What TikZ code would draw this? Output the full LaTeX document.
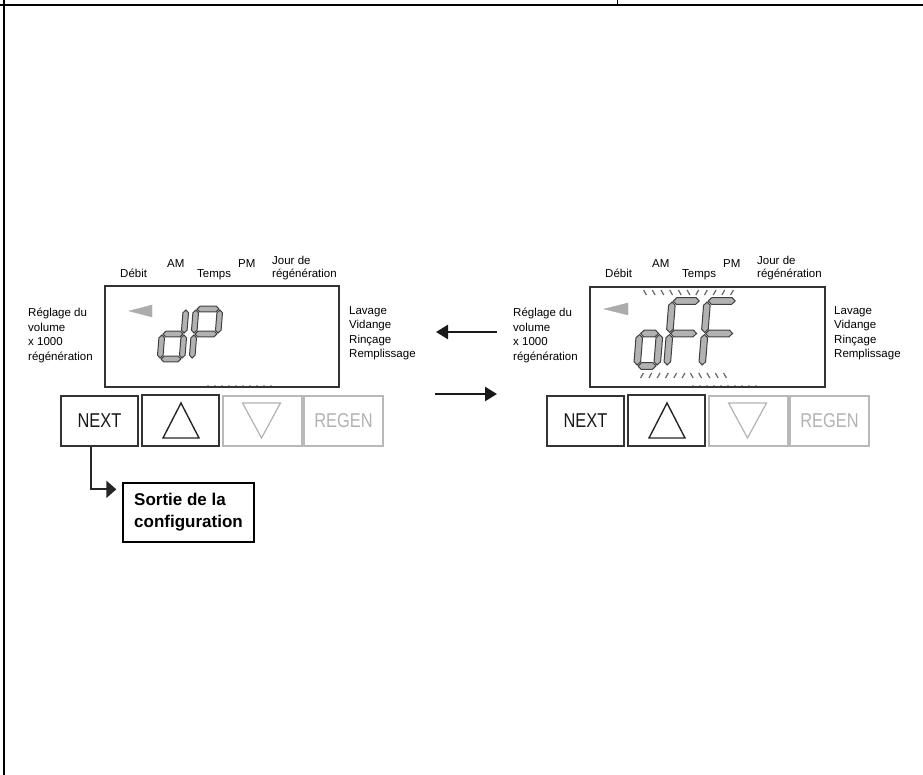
\documentclass[tikz,border=0pt]{standalone}
\usepackage{fontspec}
\setmainfont{Liberation Sans}
\newfontfamily\narrowfont{Liberation Sans}[FakeStretch=0.82]
\usetikzlibrary{arrows.meta}

\newcommand\segH[3]{%
  \filldraw[seg] (#1,#3) -- ({#1+\segT},{#3-\segT}) -- ({#2-\segT},{#3-\segT}) -- (#2,#3)
    -- ({#2-\segT},{#3+\segT}) -- ({#1+\segT},{#3+\segT}) -- cycle;}
\newcommand\segV[3]{%
  \filldraw[seg] (#1,#2) -- ({#1+\segT},{#2+\segT}) -- ({#1+\segT},{#3-\segT}) -- (#1,#3)
    -- ({#1-\segT},{#3-\segT}) -- ({#1-\segT},{#2+\segT}) -- cycle;}
\newcommand\segA{\segH{\dg}{\dW-\dg}{-\dH}}
\newcommand\segB{\segV{\dW}{-\dH+\dg}{-\dH/2-\dg}}
\newcommand\segC{\segV{\dW}{-\dH/2+\dg}{-\dg}}
\newcommand\segD{\segH{\dg}{\dW-\dg}{0}}
\newcommand\segE{\segV{0}{-\dH/2+\dg}{-\dg}}
\newcommand\segF{\segV{0}{-\dH+\dg}{-\dH/2-\dg}}
\newcommand\segG{\segH{\dg}{\dW-\dg}{-\dH/2}}
\newcommand\sevdigit[6]{%
  \begin{scope}[shift={(#1,#2)},xslant=0.08]
    \def\dW{#3}\def\dH{#4}\def\segT{#5}\def\dg{1}
    #6
  \end{scope}}

\begin{document}
\begin{tikzpicture}[x=1pt,y=-1pt,
  seg/.style={fill=gray!60,draw=black!75,line width=1pt},
  dispbox/.style={draw=black!80,line width=1.2pt,inner sep=0pt},
  btn/.style={draw=black!80,line width=1.2pt,inner sep=0pt,minimum height=50pt,
    font=\narrowfont\fontsize{20}{20}\selectfont,text=black!90},
  btngray/.style={btn,draw=gray!55,text=gray!60},
  lbl/.style={inner sep=0pt,anchor=base west,font=\fontsize{11.5}{14}\selectfont},
  midarrow/.style={line width=2.5pt,black!90,-{Triangle[length=12pt,width=14pt]}},
  tickmark/.style={line width=1.2pt,black!60},
  dotline/.style={gray!60,line width=0.9pt,dash pattern=on 2pt off 5pt},
  ind/.style={fill=gray!65,draw=gray!65,line width=0.4pt}]
\useasboundingbox (0,0) rectangle (923,775);

% frame
\draw[line width=2pt] (0,5) -- (923,5);
\draw[line width=1.5pt] (4,0) -- (4,775);
\draw[line width=1pt] (617,0) -- (617,5);

% displays
\node[dispbox,minimum width=234pt,minimum height=101pt] (dispL) at (222,336.5) {};
\node[dispbox,minimum width=235pt,minimum height=100pt] (dispR) at (707.5,337) {};

% labels
\foreach \side/\dx in {L/0,R/485}{
  \node[lbl] (debit\side) at (120+\dx,278) {Débit};
  \node[lbl] (am\side) at (167+\dx,268) {AM};
  \node[lbl] (temps\side) at (197+\dx,278) {Temps};
  \node[lbl] (pm\side) at (238+\dx,268) {PM};
  \node[lbl] (jour\side) at (272+\dx,265) {Jour de};
  \node[lbl] (regj\side) at (272+\dx,277.5) {régénération};
  \node[lbl] (regl\side) at (28+\dx,317) {Réglage du};
  \node[lbl] (vol\side) at (28+\dx,331.3) {volume};
  \node[lbl] (mil\side) at (28+\dx,345.6) {x 1000};
  \node[lbl] (regv\side) at (28+\dx,360) {régénération};
  \node[lbl] (lav\side) at (349+\dx,315) {Lavage};
  \node[lbl] (vid\side) at (349+\dx,329) {Vidange};
  \node[lbl] (rin\side) at (349+\dx,343) {Rinçage};
  \node[lbl] (rem\side) at (349+\dx,357) {Remplissage};
}

% indicator triangles
\filldraw[ind] (129,311) -- (152,305) -- (152,317) -- cycle;
\filldraw[ind] (604,309) -- (628,303) -- (628,315) -- cycle;

% dotted lines
\draw[dotline] (207,385) -- (277,385);
\draw[dotline] (692,385) -- (762,385);

% digits dP
\sevdigit{160}{359}{22}{50}{2.8}{\segB\segC\segD\segE\segG}
\sevdigit{192}{359}{24}{50}{2.8}{\segA\segB\segE\segF\segG}
% digits oFF
\sevdigit{637}{366}{20}{65}{3.3}{\segC\segD\segE\segG}
\sevdigit{667}{366}{28}{65}{3.3}{\segA\segE\segF\segG}
\sevdigit{702}{366}{29}{65}{3.3}{\segA\segE\segF\segG}

% blinking ticks
\foreach \i in {0,...,5} \draw[tickmark] ({645+\i*8.7-1.4},290) -- ++(2.8,5);
\foreach \i in {6,...,10} \draw[tickmark] ({645+\i*8.7+1.4},290) -- ++(-2.8,5);
\foreach \i in {0,...,5} \draw[tickmark] ({642+\i*8.3+1.4},373) -- ++(-2.8,5);
\foreach \i in {6,...,10} \draw[tickmark] ({642+\i*8.3-1.4},373) -- ++(2.8,5);

% buttons
\foreach \side/\dx in {L/0,R/486}{
  \node[btn,minimum width=77pt] (next\side) at (99.5+\dx,421) {NEXT};
  \node[btn,minimum width=77pt,minimum height=51pt,line width=1.7pt] (up\side) at (180.5+\dx,420.5) {};
  \node[btngray,minimum width=79pt] (down\side) at (262.5+\dx,421) {};
  \node[btngray,minimum width=79pt] (regen\side) at (343.5+\dx,421) {REGEN};
  \draw[line width=1.4pt,black!85] ([shift={(0.5,-17.5)}]up\side.center) -- ([shift={(-17.5,17.5)}]up\side.center)
     -- ([shift={(18.5,17.5)}]up\side.center) -- cycle;
  \draw[line width=1.2pt,gray!60] ([shift={(-20,-18)}]down\side.center) -- ([shift={(18,-18)}]down\side.center)
     -- ([shift={(-1,17)}]down\side.center) -- cycle;
}

% exit box
\node[draw,line width=1.3pt,minimum width=131pt,minimum height=59pt,align=left,
  font=\bfseries\fontsize{17}{22}\selectfont] (sortie) at (188.5,512.5) {Sortie de la\\configuration};
\draw[line width=2pt,black!85,-{Triangle[length=10pt,width=17pt]}]
  ([xshift=-8.5pt]nextL.south) |- ([xshift=-6pt,yshift=-7pt]sortie.north west);

% transition arrows
\coordinate (la1) at (497,332);
\coordinate (la2) at (436,332);
\coordinate (ra1) at (435,394);
\coordinate (ra2) at (497,394);
\draw[midarrow] (la1) -- (la2);
\draw[midarrow] (ra1) -- (ra2);
\end{tikzpicture}
\end{document}
